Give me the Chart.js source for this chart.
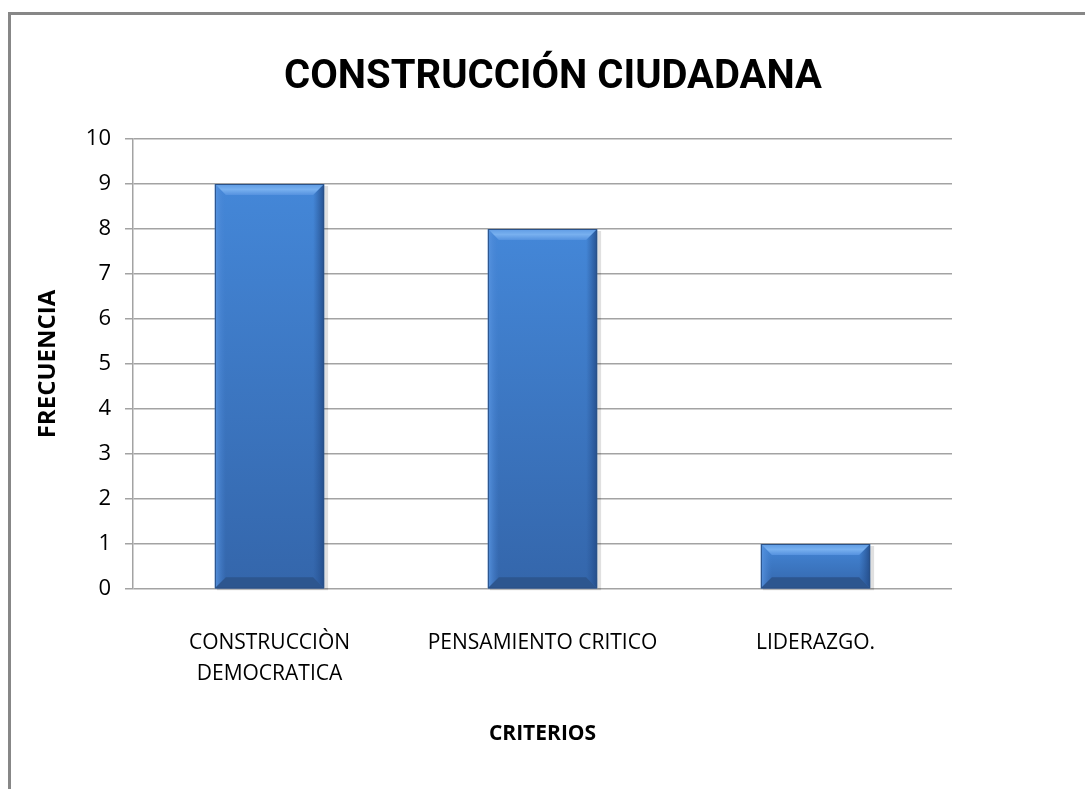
<!DOCTYPE html>
<html>
<head>
<meta charset="utf-8">
<script src="https://cdn.jsdelivr.net/npm/chart.js@4/dist/chart.umd.min.js"></script>
<style>
html, body { margin: 0; padding: 0; background: #fff; }
#frame { position: absolute; left: 8px; top: 12px; width: 1077px; height: 777px;
         border-top: 3px solid #878787; border-left: 3px solid #878787; box-sizing: border-box; }
#wrap { position: absolute; left: 0; top: 0; width: 1085px; height: 789px; }
</style>
</head>
<body>
<div id="frame"></div>
<div id="wrap"><canvas id="chart" width="1085" height="789"></canvas></div>
<script>
// data
const chartTitle = "CONSTRUCCIÓN CIUDADANA";
const categories = [["CONSTRUCCIÒN", "DEMOCRATICA"], "PENSAMIENTO CRITICO", "LIDERAZGO."];
const frecuencia = [9, 8, 1];
const yMin = 0, yMax = 10, yStep = 1;
const yTitle = "FRECUENCIA";
const xTitle = "CRITERIOS";

const FONT = "'Open Sans', sans-serif";
const TITLE_FONT = "Roboto, 'Open Sans', sans-serif";

// bevelled blue bars, drawn over each bar element
const bevel = {
    id: "bevel",
    afterDatasetsDraw(chart) {
        const ctx = chart.ctx;
        chart.getDatasetMeta(0).data.forEach(bar => {
            const x0 = bar.x - bar.width / 2, x1 = bar.x + bar.width / 2;
            const y0 = bar.y, y1 = bar.base;
            const w = x1 - x0, h = y1 - y0;
            const b = Math.min(11, h / 3);
            ctx.save();
            // soft shadow
            ctx.fillStyle = "rgba(0,0,0,0.12)";
            ctx.fillRect(x0 + 2, y0 + 2, w + 2, h);
            let g = ctx.createLinearGradient(0, y0, 0, y1);
            g.addColorStop(0, "#4487d8");
            g.addColorStop(1, "#3466ab");
            ctx.fillStyle = g;
            ctx.fillRect(x0, y0, w, h);
            // top bevel
            g = ctx.createLinearGradient(0, y0, 0, y0 + b);
            g.addColorStop(0, "#5e9be4");
            g.addColorStop(0.5, "#78b0ef");
            g.addColorStop(1, "#5592df");
            ctx.fillStyle = g;
            ctx.beginPath();
            ctx.moveTo(x0, y0); ctx.lineTo(x1, y0); ctx.lineTo(x1 - b, y0 + b); ctx.lineTo(x0 + b, y0 + b);
            ctx.closePath(); ctx.fill();
            // left bevel
            g = ctx.createLinearGradient(x0, 0, x0 + b, 0);
            g.addColorStop(0, "rgba(90,150,225,0.9)");
            g.addColorStop(1, "rgba(70,130,210,0)");
            ctx.fillStyle = g;
            ctx.beginPath();
            ctx.moveTo(x0, y0); ctx.lineTo(x0 + b, y0 + b); ctx.lineTo(x0 + b, y1 - b); ctx.lineTo(x0, y1);
            ctx.closePath(); ctx.fill();
            // right bevel
            g = ctx.createLinearGradient(x1 - b, 0, x1, 0);
            g.addColorStop(0, "rgba(40,85,150,0)");
            g.addColorStop(1, "rgba(35,75,135,0.9)");
            ctx.fillStyle = g;
            ctx.beginPath();
            ctx.moveTo(x1, y0); ctx.lineTo(x1 - b, y0 + b); ctx.lineTo(x1 - b, y1 - b); ctx.lineTo(x1, y1);
            ctx.closePath(); ctx.fill();
            // bottom bevel
            ctx.fillStyle = "#2d568f";
            ctx.beginPath();
            ctx.moveTo(x0, y1); ctx.lineTo(x1, y1); ctx.lineTo(x1 - b, y1 - b); ctx.lineTo(x0 + b, y1 - b);
            ctx.closePath(); ctx.fill();
            ctx.strokeStyle = "#2b5288";
            ctx.lineWidth = 1;
            ctx.strokeRect(x0 + 0.5, y0 + 0.5, w - 1, h - 1);
            ctx.restore();
        });
    }
};

new Chart(document.getElementById("chart"), {
    type: "bar",
    data: {
        labels: categories,
        datasets: [{
            label: yTitle,
            data: frecuencia,
            backgroundColor: "#3d78c4",
            barPercentage: 0.4,
            categoryPercentage: 1
        }]
    },
    options: {
        responsive: false,
        animation: false,
        layout: { padding: { left: 34, right: 13, top: 22, bottom: 40 } },
        plugins: {
            legend: { display: false },
            tooltip: { enabled: false },
            title: {
                display: true,
                text: chartTitle,
                color: "#000",
                font: { family: TITLE_FONT, size: 40, weight: "bold" },
                padding: { top: 32, bottom: 37 }
            }
        },
        scales: {
            x: {
                grid: { display: false, drawTicks: false },
                border: { display: false },
                ticks: { color: "#000", padding: 38, font: { family: FONT, size: 21, lineHeight: 1.5 } },
                title: {
                    display: true, text: xTitle, color: "#000",
                    font: { family: FONT, size: 21, weight: "bold" },
                    padding: { top: 0, bottom: 2 }
                },
                afterFit: s => { s.height = 160; }
            },
            y: {
                min: yMin, max: yMax,
                grid: { color: "#a3a3a3", lineWidth: 1.5, tickLength: 8 },
                border: { color: "#a3a3a3", width: 1.5 },
                ticks: { stepSize: yStep, color: "#000", padding: 14, font: { family: FONT, size: 22 } },
                title: {
                    display: true, text: yTitle, color: "#000",
                    font: { family: FONT, size: 24, weight: "bold" },
                    padding: { top: 0, bottom: 0 }
                },
                afterFit: s => { s.width = 99; }
            },
            // empty right-hand space so the title centres where it does in the original
            yRight: {
                position: "right",
                min: yMin, max: yMax,
                grid: { drawOnChartArea: false, drawTicks: false },
                border: { display: false },
                ticks: { display: false },
                afterFit: s => { s.width = 120; }
            }
        }
    },
    plugins: [bevel]
});
</script>
</body>
</html>
